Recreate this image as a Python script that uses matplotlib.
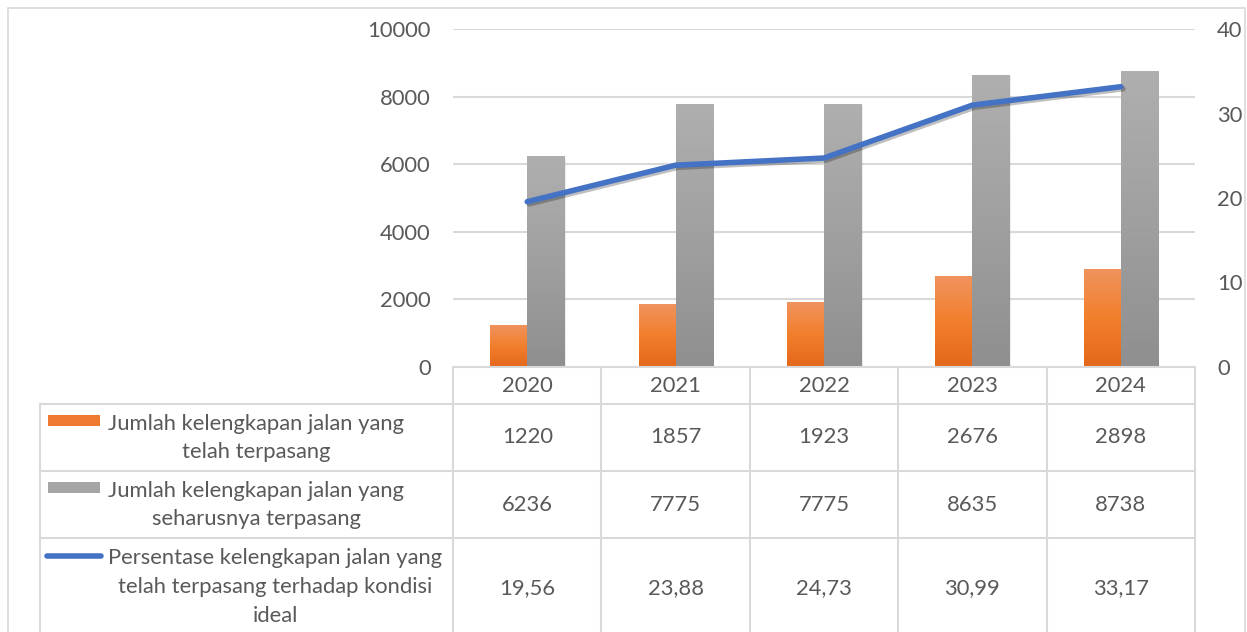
import numpy as np
import matplotlib
matplotlib.use("Agg")
import matplotlib.pyplot as plt
from matplotlib.colors import LinearSegmentedColormap
from matplotlib.lines import Line2D
from matplotlib.patches import Rectangle
import matplotlib.patheffects as pe

plt.rcParams['font.family'] = ['Lato', 'DejaVu Sans']

# data
years = ['2020', '2021', '2022', '2023', '2024']
terpasang = [1220, 1857, 1923, 2676, 2898]
seharusnya = [6236, 7775, 7775, 8635, 8738]
persentase = [19.56, 23.88, 24.73, 30.99, 33.17]
persen_labels = ['19,56', '23,88', '24,73', '30,99', '33,17']
row_labels = ['Jumlah kelengkapan jalan yang\ntelah terpasang',
              'Jumlah kelengkapan jalan yang\nseharusnya terpasang',
              'Persentase kelengkapan jalan yang\ntelah terpasang terhadap kondisi\nideal']

W, H = 1247, 632
TXT = '#595959'
GRID = '#D9D9D9'
FS = 15.8


def fx(x):
    return x / W


def fy(y):
    return 1 - y / H


fig = plt.figure(figsize=(W / 100, H / 100), dpi=100)

# outer chart border
fig.add_artist(Rectangle((fx(8), fy(640)), fx(1245) - fx(8), fy(8) - fy(640),
                         transform=fig.transFigure, fill=False, edgecolor=GRID, lw=1.2))

ax_l, ax_r, ax_t, ax_b = 453, 1195, 29, 367
ax = fig.add_axes([fx(ax_l), fy(ax_b), fx(ax_r - ax_l), (ax_b - ax_t) / H])
x = np.arange(len(years))
bw = 0.25
b1 = ax.bar(x - bw / 2, terpasang, bw, color='none', zorder=2)
b2 = ax.bar(x + bw / 2, seharusnya, bw, color='none', zorder=2)

orange = LinearSegmentedColormap.from_list('o', ['#E5671A', '#F27F2C', '#F0935E'])
grey = LinearSegmentedColormap.from_list('g', ['#8F8F8F', '#A0A0A0', '#AFAFAF'])
grad = np.linspace(0, 1, 256).reshape(-1, 1)
for bars, cm in ((b1, orange), (b2, grey)):
    for p in bars:
        x0, w, h = p.get_x(), p.get_width(), p.get_height()
        # soft shadow on the right side
        ax.add_patch(Rectangle((x0 + 0.01, 0), w, h - 40, color='#000000', alpha=0.07, zorder=1.5, lw=0))
        ax.imshow(grad, extent=[x0, x0 + w, 0, h], origin='lower', aspect='auto',
                  cmap=cm, zorder=2.5)

ax.set_xlim(-0.5, len(years) - 0.5)
ax.set_ylim(0, 10000)
ax.set_yticks(range(0, 10001, 2000))
ax.set_axisbelow(True)
ax.grid(axis='y', color=GRID, lw=1.5)
ax.set_xticks([])
for s in ax.spines.values():
    s.set_visible(False)
ax.tick_params(axis='y', length=0, pad=16, labelsize=FS, labelcolor=TXT)

ax2 = ax.twinx()
ax2.set_ylim(0, 40)
ax2.set_yticks(range(0, 41, 10))
ax2.tick_params(axis='y', length=0, pad=16, labelsize=FS, labelcolor=TXT)
for s in ax2.spines.values():
    s.set_visible(False)
ax2.plot(x, persentase, color='#4472C4', lw=4, solid_capstyle='round', solid_joinstyle='round',
         path_effects=[pe.SimpleLineShadow(offset=(1.5, -1.5), alpha=0.25), pe.Normal()])

# data table
col_w = (ax_r - ax_l) / len(years)
cols = [ax_l + i * col_w for i in range(len(years) + 1)]
rows = [367, 404, 471, 538, 640]


def hline(x0, x1, y):
    fig.add_artist(Line2D([fx(x0), fx(x1)], [fy(y), fy(y)], color=GRID, lw=1.5))


def vline(x, y0, y1):
    fig.add_artist(Line2D([fx(x), fx(x)], [fy(y0), fy(y1)], color=GRID, lw=1.5))


hline(ax_l, ax_r, rows[0])
for y in rows[1:4]:
    hline(40, ax_r, y)
for c in cols:
    vline(c, rows[0], rows[-1])
vline(40, rows[1], rows[-1])

for i, yr in enumerate(years):
    cx = cols[i] + col_w / 2
    fig.text(fx(cx), fy(386), yr, ha='center', va='center', fontsize=FS, color=TXT)
    fig.text(fx(cx), fy(437), str(terpasang[i]), ha='center', va='center', fontsize=FS, color=TXT)
    fig.text(fx(cx), fy(505), str(seharusnya[i]), ha='center', va='center', fontsize=FS, color=TXT)
    fig.text(fx(cx), fy(588), persen_labels[i], ha='center', va='center', fontsize=FS, color=TXT)

# row headers with legend keys
label_pos = [(256, 438), (256, 505), (275, 587)]
for (lx, ly), lab in zip(label_pos, row_labels):
    fig.text(fx(lx), fy(ly), lab, ha='center', va='center', fontsize=FS, color=TXT, linespacing=1.55)

fig.add_artist(Rectangle((fx(48), fy(426)), fx(52), (426 - 415) / H, transform=fig.transFigure,
                         color='#EE7B30', lw=0))
fig.add_artist(Rectangle((fx(48), fy(493)), fx(52), (493 - 482) / H, transform=fig.transFigure,
                         color='#A5A5A5', lw=0))
fig.add_artist(Line2D([fx(47), fx(101)], [fy(556), fy(556)], color='#4472C4', lw=4,
                      solid_capstyle='round'))

fig.savefig('out.png', dpi=100)
